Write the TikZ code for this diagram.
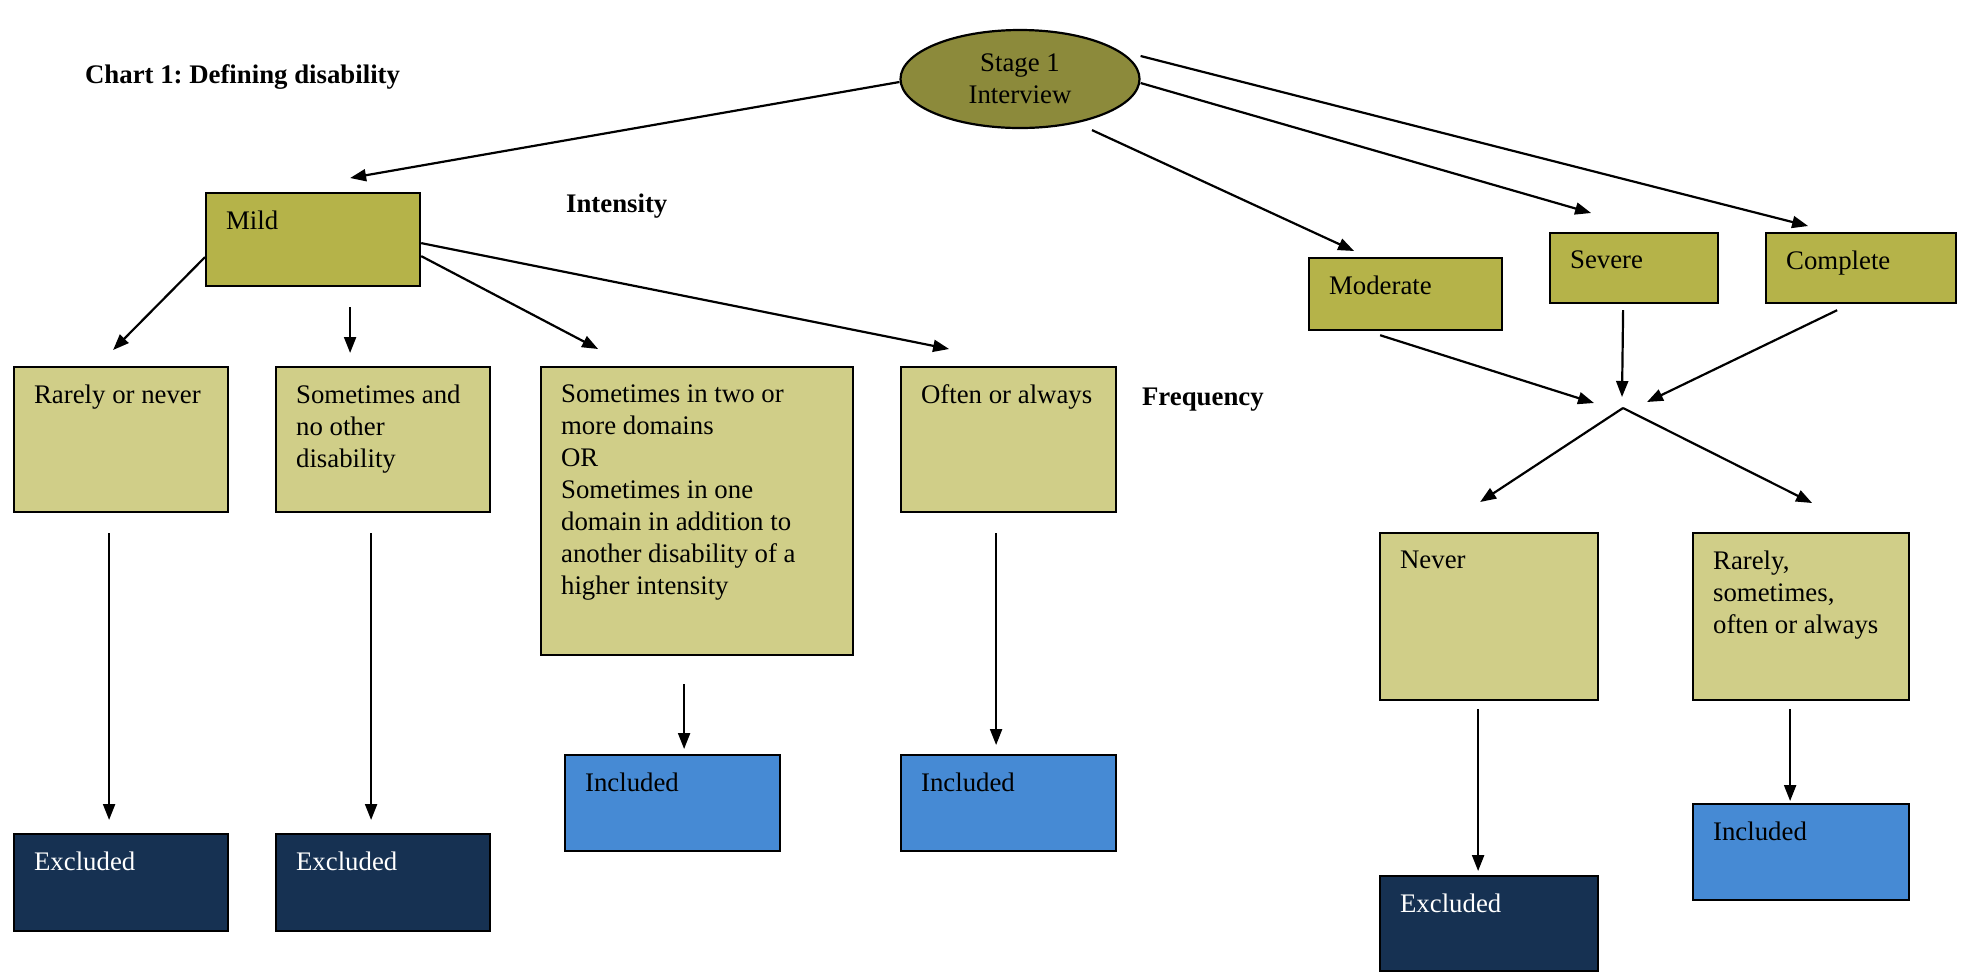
\documentclass[tikz,border=0pt]{standalone}
\usepackage{fontspec}
\setmainfont{Liberation Serif}
\usetikzlibrary{shapes.geometric,arrows.meta}
\definecolor{stagecol}{HTML}{8C8A3B}
\definecolor{levelcol}{HTML}{B5B349}
\definecolor{freqcol}{HTML}{D0CE88}
\definecolor{incol}{HTML}{468AD4}
\definecolor{excol}{HTML}{163152}
\newcommand{\cell}[3]{\parbox[c][\dimexpr#2-18pt\relax][t]{\dimexpr#1-20pt\relax}{\raggedright #3}}
\frenchspacing
\begin{document}
\begin{tikzpicture}[x=0.5pt, y=-0.5pt, >={Triangle[length=8pt,width=6pt]},
  font=\fontsize{13.4}{16}\selectfont, line width=1.1pt,
  box/.style={draw, rectangle, anchor=north west, inner xsep=10pt, inner ysep=9pt},
  lvl/.style={box, fill=levelcol},
  freq/.style={box, fill=freqcol},
  inc/.style={box, fill=incol},
  exc/.style={box, fill=excol, text=white},
  lab/.style={anchor=base west, inner sep=0pt}]
\useasboundingbox (0,0) rectangle (1968,971);

\node[lab] (title) at (84,83) {\bfseries Chart 1: Defining disability};
\node[lab] (intens) at (565,212) {\bfseries Intensity};
\node[lab] (freqlab) at (1141,405) {\bfseries Frequency};

\node[draw, ellipse, fill=stagecol, minimum width=119.5pt, minimum height=49pt, inner sep=0pt, align=center] (stage) at (1020,79) {Stage 1\\Interview};

\node[lvl] (mild) at (205,192) {\cell{107pt}{46.5pt}{Mild}};
\node[lvl] (mod) at (1308,257) {\cell{96.5pt}{36pt}{Moderate}};
\node[lvl] (sev) at (1549,232) {\cell{84pt}{35pt}{Severe}};
\node[lvl] (comp) at (1765,232) {\cell{95pt}{35pt}{Complete}};

\node[freq] (rare) at (13,366) {\cell{107pt}{72.5pt}{Rarely or never}};
\node[freq] (some) at (275,366) {\cell{107pt}{72.5pt}{Sometimes and\\no other\\disability}};
\node[freq] (two) at (540,366) {\cell{156pt}{144pt}{Sometimes in two or\\more domains\\OR\\Sometimes in one\\domain in addition to\\another disability of a\\higher intensity}};
\node[freq] (often) at (900,366) {\cell{107.5pt}{72.5pt}{Often or always}};
\node[freq] (never) at (1379,532) {\cell{109pt}{83.5pt}{Never}};
\node[freq] (rare2) at (1692,532) {\cell{108pt}{83.5pt}{Rarely,\\sometimes,\\often or always}};

\node[exc] (ex1) at (13,833) {\cell{107pt}{48.5pt}{Excluded}};
\node[exc] (ex2) at (275,833) {\cell{107pt}{48.5pt}{Excluded}};
\node[inc] (inc1) at (564,754) {\cell{107.5pt}{48pt}{Included}};
\node[inc] (inc2) at (900,754) {\cell{107.5pt}{48pt}{Included}};
\node[exc] (ex3) at (1379,875) {\cell{109pt}{47.5pt}{Excluded}};
\node[inc] (inc3) at (1692,803) {\cell{108pt}{48pt}{Included}};

\coordinate (mrg) at (1623,408);

\draw[->] ([shift={(0,3)}]stage.west) -- ([shift={(37,-14)}]mild.north);
\draw[->] ([shift={(72,1)}]stage.south) -- ([shift={(-51.5,-6)}]mod.north);
\draw[->] ([shift={(0,4)}]stage.east) -- ([shift={(-43,-19)}]sev.north);
\draw[->] ([shift={(0,-23)}]stage.east) -- ([shift={(-53,-6)}]comp.north);

\draw[->] ([shift={(0,17.5)}]mild.west) -- ([shift={(-8,-16)}]rare.north);
\draw[->] ([shift={(37,20)}]mild.south) -- ([shift={(-33,-13)}]some.north);
\draw[->] ([shift={(0,16.5)}]mild.east) -- ([shift={(-99,-17)}]two.north);
\draw[->] ([shift={(0,3.5)}]mild.east) -- ([shift={(-59.5,-17)}]often.north);

\draw[->] ([shift={(-12,20)}]rare.south) -- ([shift={(-12,-13)}]ex1.north);
\draw[->] ([shift={(-12,20)}]some.south) -- ([shift={(-12,-13)}]ex2.north);
\draw[->] ([shift={(-13,28)}]two.south) -- ([shift={(11.5,-5)}]inc1.north);
\draw[->] ([shift={(-12.5,20)}]often.south) -- ([shift={(-12.5,-9)}]inc2.north);

\draw[->] ([shift={(-25.5,4)}]mod.south) -- ([shift={(-29,-5)}]mrg);
\draw[->] ([shift={(-11,6)}]sev.south) -- ([shift={(-1,-11)}]mrg);
\draw[->] ([shift={(-24,6)}]comp.south) -- ([shift={(24,-6)}]mrg);
\draw[->] (mrg) -- ([shift={(-9,-30)}]never.north);
\draw[->] (mrg) -- ([shift={(11,-29)}]rare2.north);

\draw[->] ([shift={(-11,8)}]never.south) -- ([shift={(-11,-4)}]ex3.north);
\draw[->] ([shift={(-11,8)}]rare2.south) -- ([shift={(-11,-2)}]inc3.north);
\end{tikzpicture}
\end{document}
